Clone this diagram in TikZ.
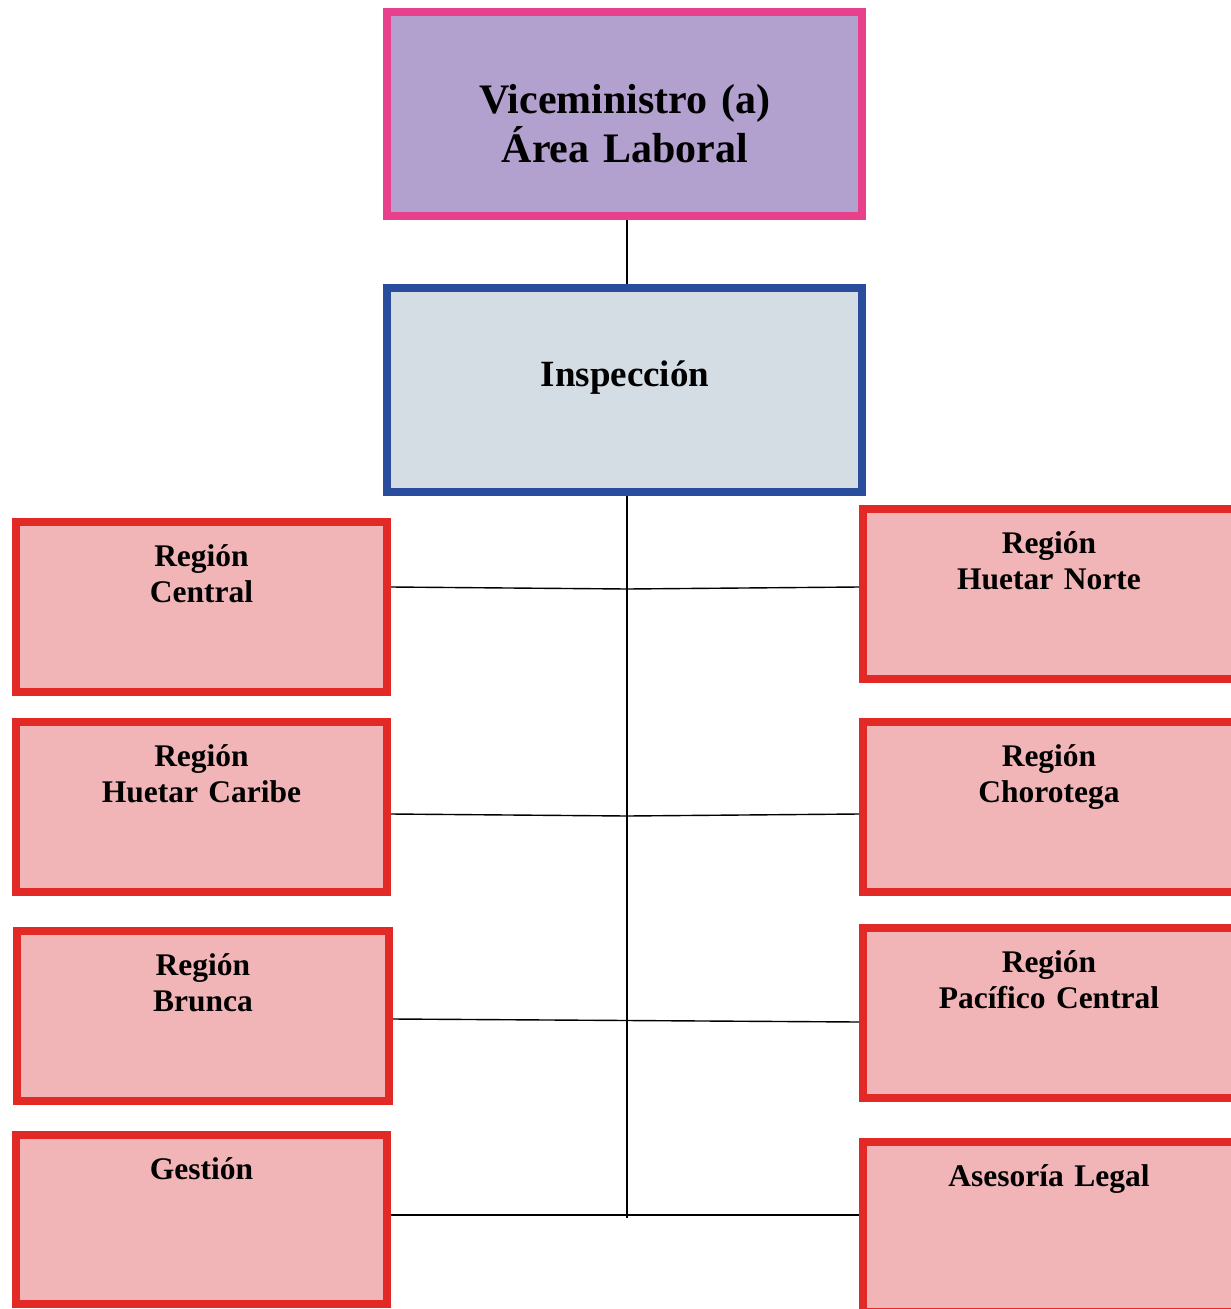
\documentclass[tikz,border=0pt]{standalone}
\usepackage{fontspec}
\setmainfont{Liberation Serif}
\begin{document}
\begin{tikzpicture}[x=1pt,y=-1pt,
  box/.style={draw, rectangle, line width=8pt, minimum width=#1},
  topbox/.style={box=475, minimum height=204, fill=viceFill, draw=viceLine},
  inspbox/.style={box=475, minimum height=204, fill=inspFill, draw=inspLine},
  regbox/.style={box=371, minimum height=170, fill=regFill, draw=regLine},
  regtext/.style={anchor=base, text width=360pt, align=center, inner sep=0pt,
    font=\fontsize{31.5}{36}\selectfont\bfseries},
  link/.style={draw=black, line width=1.4pt}
]
\definecolor{viceFill}{HTML}{B2A1CE}
\definecolor{viceLine}{HTML}{E8408A}
\definecolor{inspFill}{HTML}{D4DCE4}
\definecolor{inspLine}{HTML}{2A4C9C}
\definecolor{regFill}{HTML}{F2B5B7}
\definecolor{regLine}{HTML}{E32925}

\useasboundingbox (0,0) rectangle (1231,1309);
\clip (0,0) rectangle (1231,1309);

% top levels
\node[topbox] (vice) at (624.5,114) {};
\node[anchor=base, align=center, inner sep=0pt, text width=460pt,
  font=\fontsize{42}{49}\selectfont\bfseries] (vicetext) at (625,113.5)
  {Viceministro (a)\\Área Laboral};
\node[inspbox] (insp) at (624.5,390) {};
\node[anchor=base, inner sep=0pt, font=\fontsize{37}{42}\selectfont\bfseries]
  (insptext) at (625,386) {Inspección};

% left column
\node[regbox] (central) at (201.5,607) {};
\node[regtext] (centraltext) at (201.5,566) {Región\\Central};
\node[regbox] (caribe) at (201.5,807) {};
\node[regtext] (caribetext) at (201.5,766) {Región\\Huetar Caribe};
\node[regbox, minimum width=372] (brunca) at (203,1016) {};
\node[regtext] (bruncatext) at (203,975) {Región\\Brunca};
\node[regbox, minimum height=169] (gestion) at (201.5,1219.5) {};
\node[regtext] (gestiontext) at (201.5,1179) {Gestión};

% right column
\node[regbox, minimum width=372] (norte) at (1049,594) {};
\node[regtext] (nortetext) at (1049,553) {Región\\Huetar Norte};
\node[regbox, minimum width=372] (chorotega) at (1049,807) {};
\node[regtext] (chorotegatext) at (1049,766) {Región\\Chorotega};
\node[regbox, minimum width=372] (pacifico) at (1049,1013) {};
\node[regtext] (pacificotext) at (1049,972) {Región\\Pacífico Central};
\node[regbox, minimum width=372] (asesoria) at (1049,1227) {};
\node[regtext] (asesoriatext) at (1049,1186) {Asesoría Legal};

% trunk and branch points
\coordinate (trunkend) at (627,1218);
\coordinate (j1) at (627,589);
\coordinate (j2) at (627,816);
\coordinate (j3) at (627,1020.5);
\coordinate (j4) at (627,1215);

\draw[link] (vice.south -| trunkend) -- (insp.north -| trunkend);
\draw[link] (insp.south -| trunkend) -- (trunkend);

\draw[link] ([yshift=20pt]central.east) -- (j1) -- ([yshift=7pt]norte.west);
\draw[link] ([yshift=-7pt]caribe.east) -- (j2) -- ([yshift=-7pt]chorotega.west);
\draw[link] ([yshift=-3pt]brunca.east) -- (j3) -- ([yshift=-9pt]pacifico.west);
\draw[link] ([yshift=4.5pt]gestion.east) -- (j4) -- ([yshift=12pt]asesoria.west);
\end{tikzpicture}
\end{document}
